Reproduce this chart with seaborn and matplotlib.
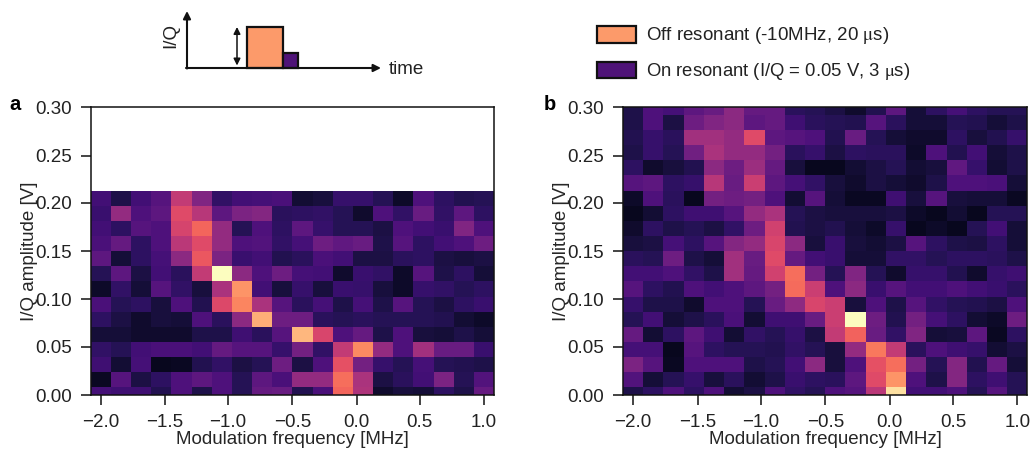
import numpy as np
import pandas as pd
import matplotlib.pyplot as plt
from matplotlib.patches import Rectangle
import seaborn as sns

freqs = [-2.0, -1.84, -1.68, -1.53, -1.37, -1.21, -1.05, -0.89, -0.74, -0.58,
         -0.42, -0.26, -0.11, 0.05, 0.21, 0.37, 0.53, 0.68, 0.84, 1.0]
amps = [0.0, 0.016, 0.032, 0.047, 0.063, 0.079, 0.095, 0.111, 0.126, 0.142,
        0.158, 0.174, 0.189, 0.205, 0.221, 0.237, 0.253, 0.268, 0.284, 0.3]

x_ticks = [-2.0, -1.5, -1.0, -0.5, 0.0, 0.5, 1.0]
y_ticks = [0.0, 0.05, 0.10, 0.15, 0.20, 0.25, 0.30]

# rows go from the lowest amplitude upwards
panel_a = [
    [.18, .16, .16, .09, .20, .08, .20, .10, .26, .27, .09, .19, .66, .45, .03, .06, .05, .12, .08, .26],
    [.01, .22, .07, .12, .20, .24, .20, .10, .24, .19, .38, .38, .68, .44, .07, .11, .17, .32, .10, .21],
    [.16, .04, .18, .00, .01, .09, .13, .07, .10, .28, .07, .20, .60, .30, .14, .10, .18, .10, .09, .08],
    [.13, .10, .17, .19, .19, .17, .26, .22, .22, .14, .30, .13, .50, .74, .38, .20, .42, .27, .27, .15],
    [.05, .05, .03, .03, .03, .08, .08, .16, .11, .22, .84, .56, .20, .26, .08, .20, .06, .05, .08, .05],
    [.12, .07, .03, .06, .05, .20, .11, .36, .82, .28, .28, .11, .10, .11, .10, .10, .10, .09, .04, .02],
    [.19, .10, .12, .06, .20, .09, .57, .73, .44, .22, .11, .18, .08, .18, .08, .22, .10, .07, .12, .15],
    [.02, .13, .05, .22, .13, .06, .44, .76, .17, .06, .14, .06, .15, .14, .06, .02, .14, .13, .10, .12],
    [.10, .24, .07, .17, .11, .50, 1.0, .36, .20, .28, .18, .17, .03, .15, .13, .02, .22, .08, .12, .05],
    [.24, .05, .12, .18, .36, .62, .32, .15, .17, .09, .11, .19, .17, .07, .07, .11, .12, .07, .06, .07],
    [.19, .26, .12, .20, .48, .58, .38, .20, .21, .13, .18, .28, .25, .27, .08, .22, .12, .17, .20, .28],
    [.17, .12, .22, .20, .55, .66, .38, .10, .20, .12, .24, .14, .10, .10, .07, .20, .17, .15, .33, .20],
    [.15, .38, .20, .24, .58, .47, .24, .32, .34, .11, .12, .13, .10, .03, .20, .13, .27, .13, .24, .12],
    [.17, .08, .17, .22, .50, .33, .13, .17, .18, .19, .04, .06, .14, .14, .10, .02, .20, .12, .09, .10],
]

panel_b = [
    [.08, .12, .20, .12, .20, .04, .07, .20, .13, .10, .20, .22, .48, .93, .17, .17, .20, .10, .22, .10],
    [.21, .05, .10, .14, .06, .11, .04, .08, .15, .12, .11, .24, .58, .76, .20, .08, .34, .12, .16, .10],
    [.32, .22, .01, .20, .20, .20, .08, .10, .17, .36, .06, .20, .60, .68, .30, .10, .34, .09, .26, .05],
    [.18, .18, .00, .22, .12, .10, .10, .09, .13, .10, .06, .38, .70, .50, .11, .20, .16, .14, .04, .07],
    [.26, .04, .12, .24, .16, .04, .13, .10, .14, .07, .50, .65, .27, .13, .33, .05, .06, .24, .01, .12],
    [.10, .17, .05, .08, .11, .19, .04, .16, .16, .27, .52, 1.0, .28, .09, .30, .18, .12, .04, .02, .28],
    [.14, .08, .08, .03, .20, .20, .10, .27, .37, .56, .52, .06, .20, .08, .22, .13, .10, .09, .07, .20],
    [.22, .12, .09, .20, .17, .20, .24, .30, .67, .52, .20, .36, .15, .22, .17, .17, .20, .17, .15, .11],
    [.17, .17, .20, .13, .08, .42, .26, .54, .68, .30, .10, .33, .10, .03, .14, .14, .09, .03, .14, .16],
    [.11, .10, .28, .08, .05, .42, .27, .58, .26, .17, .15, .05, .05, .13, .13, .10, .12, .12, .11, .08],
    [.06, .07, .18, .12, .22, .34, .38, .56, .36, .06, .15, .06, .04, .07, .22, .12, .08, .07, .12, .05],
    [.03, .12, .08, .10, .07, .13, .28, .54, .09, .07, .09, .05, .02, .14, .00, .02, .00, .10, .17, .05],
    [.00, .04, .12, .16, .16, .22, .38, .44, .10, .07, .06, .06, .06, .07, .02, .00, .04, .00, .10, .10],
    [.02, .20, .11, .00, .30, .28, .30, .20, .04, .22, .05, .01, .01, .16, .06, .22, .06, .05, .05, .01],
    [.22, .24, .12, .14, .47, .27, .52, .24, .18, .13, .06, .03, .07, .05, .03, .08, .20, .20, .19, .05],
    [.12, .03, .06, .09, .36, .28, .40, .26, .06, .00, .00, .04, .07, .10, .04, .06, .25, .14, .04, .08],
    [.08, .14, .10, .29, .44, .38, .38, .30, .11, .14, .07, .12, .11, .11, .02, .20, .09, .17, .05, .08],
    [.09, .14, .11, .42, .42, .38, .58, .24, .22, .20, .09, .27, .10, .05, .03, .03, .12, .06, .09, .14],
    [.08, .20, .07, .28, .33, .36, .24, .26, .16, .11, .10, .09, .22, .11, .05, .05, .10, .09, .05, .08],
    [.08, .20, .18, .24, .27, .36, .26, .26, .11, .10, .07, .03, .09, .24, .05, .12, .18, .12, .10, .10],
]

off_label = r"Off resonant (-10MHz, 20 $\mathrm{\mu}$s)"
on_label = r"On resonant (I/Q = 0.05 V, 3 $\mathrm{\mu}$s)"

ORANGE = "#fc9a6a"
PURPLE = "#4f1478"
W, H = 1033, 453

sns.set_theme(style="ticks")
plt.rcParams["font.family"] = ["Liberation Sans", "DejaVu Sans"]
plt.rcParams["mathtext.fontset"] = "stix"
plt.rcParams["axes.edgecolor"] = "#111111"
plt.rcParams["text.color"] = "#222222"
plt.rcParams["xtick.labelcolor"] = "#222222"
plt.rcParams["ytick.labelcolor"] = "#222222"

FS = 13.5


def px_axes(fig, left, top, right, bottom):
    return fig.add_axes([left / W, 1 - bottom / H, (right - left) / W, (bottom - top) / H])


def draw_map(ax, rows):
    df = pd.DataFrame(rows, index=amps[:len(rows)], columns=freqs).reindex(amps)
    sns.heatmap(df, ax=ax, cmap="magma", vmin=-0.06, vmax=1, cbar=False,
                xticklabels=False, yticklabels=False)
    ax.set_xlim(0, len(freqs))
    ax.set_ylim(0.5, len(amps) - 0.5)
    # heatmap cells are indexed, so ticks are placed through the value lists
    ax.set_xticks(np.interp(x_ticks, freqs, np.arange(len(freqs))) + 0.5)
    ax.set_xticklabels([f"{t:.1f}".replace("-", "\u2212") for t in x_ticks])
    ax.set_yticks(np.interp(y_ticks, amps, np.arange(len(amps))) + 0.5)
    ax.set_yticklabels([f"{t:.2f}" for t in y_ticks], rotation=0)
    ax.tick_params(length=7, width=1.1, labelsize=FS, color="#111111",
                   bottom=True, left=True)
    ax.tick_params(axis="x", pad=7)
    ax.tick_params(axis="y", pad=6.5)
    ax.set_xlabel("Modulation frequency [MHz]", fontsize=FS, labelpad=-0.5)
    ax.set_ylabel("I/Q amplitude [V]", fontsize=FS, labelpad=-2)
    for s in ax.spines.values():
        s.set_visible(True)
        s.set_linewidth(1.1)


fig = plt.figure(figsize=(W / 100, H / 100), dpi=100)

ax_a = px_axes(fig, 90.7, 107.3, 494, 395)
draw_map(ax_a, panel_a)
ax_b = px_axes(fig, 623, 107.3, 1027.5, 395)
draw_map(ax_b, panel_b)

# overlay in pixel coordinates for the pulse sketch and the legend
ov = fig.add_axes([0, 0, 1, 1], facecolor="none")
ov.set_xlim(0, W)
ov.set_ylim(H, 0)
ov.axis("off")

ov.add_patch(Rectangle((246.7, 26.7), 36, 41.3, fc=ORANGE, ec="#111111", lw=1.6))
ov.add_patch(Rectangle((282.7, 52.7), 15.6, 15.3, fc=PURPLE, ec="#111111", lw=1.6))
arrow = dict(arrowstyle="-|>", color="#111111", lw=1.5, shrinkA=0, shrinkB=0, mutation_scale=11)
ov.annotate("", xy=(187, 11), xytext=(187, 68.5), arrowprops=arrow)
ov.annotate("", xy=(381, 68), xytext=(186, 68), arrowprops=arrow)
ov.annotate("", xy=(237, 27), xytext=(237, 65.5),
            arrowprops=dict(arrowstyle="<|-|>", color="#111111", lw=1.1, shrinkA=0, shrinkB=0, mutation_scale=10))
ov.text(171, 36, "I/Q", rotation=90, ha="center", va="center", fontsize=FS)
ov.text(389, 69, "time", ha="left", va="center", fontsize=FS)

ov.add_patch(Rectangle((597, 26.3), 39, 17, fc=ORANGE, ec="#111111", lw=1.6))
ov.add_patch(Rectangle((597, 61.8), 39, 16.5, fc=PURPLE, ec="#111111", lw=1.6))
ov.text(645.5, 35, off_label, ha="left", va="center", fontsize=FS)
ov.text(645.5, 71.5, on_label, ha="left", va="center", fontsize=13.3)

ov.text(15, 105, "a", ha="center", va="center", fontsize=14.5, fontweight="bold", color="black")
ov.text(549.5, 105, "b", ha="center", va="center", fontsize=14.5, fontweight="bold", color="black")

fig.savefig("out.png", dpi=100)
